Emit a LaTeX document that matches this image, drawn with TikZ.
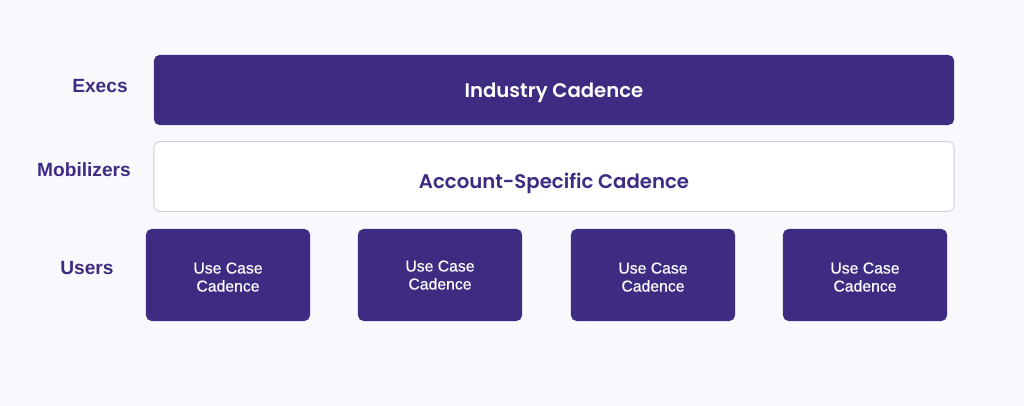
\documentclass[tikz,border=0pt]{standalone}
\usepackage{fontspec}
\setmainfont{Liberation Sans}
\newfontfamily\popfont{Poppins}[BoldFont={Poppins SemiBold}]
\newfontfamily\casefont{Liberation Sans}[FakeBold=0.5]
\usetikzlibrary{positioning,calc}
\definecolor{deeppurple}{HTML}{3E2C82}
\definecolor{pagebg}{HTML}{F9F9FD}
\definecolor{edgegray}{HTML}{CDCDD4}

\begin{document}
\begin{tikzpicture}[x=0.025cm,y=-0.025cm]
            \tikzstyle{band}=[rectangle, rounded corners=4pt, minimum width=20cm,
            minimum height=1.75cm, inner sep=0pt, text depth=0pt,
            font=\popfont\fontsize{14}{16}\selectfont\bfseries]
            \tikzstyle{usebox}=[rectangle, rounded corners=4pt, fill=deeppurple,
            minimum width=4.1cm, minimum height=2.3cm, inner sep=0pt,
            text=white, align=center, text height=23.5pt, text depth=0pt,
            font=\casefont\fontsize{11.2}{12.8}\selectfont]
            \tikzstyle{tier}=[text=deeppurple, font=\fontsize{13.6}{15}\selectfont\bfseries]
            \fill[pagebg] (0,0) rectangle (1024,406);
            \useasboundingbox (0,0) rectangle (1024,406);

            \node[band, fill=deeppurple, text=white, text height=11pt] (industry) at (554,90) {Industry Cadence};
            \node[band, fill=white, draw=edgegray, line width=0.6pt,
            text=deeppurple, text height=17pt] (account) at (554,176.5) {Account-Specific Cadence};

            \node[usebox] (usea) at (228,275) {Use Case\\Cadence};
            \node[usebox, text height=20.6pt] (useb) at (440,275) {Use Case\\Cadence};
            \node[usebox] (usec) at (653,275) {Use Case\\Cadence};
            \node[usebox] (used) at (865,275) {Use Case\\Cadence};

            \node[tier] (execs) at (100,86) {Execs};
            \node[tier] (mobilizers) at (84,170) {Mobilizers};
            \node[tier] (users) at (87,268) {Users};
        \end{tikzpicture}
\end{document}
